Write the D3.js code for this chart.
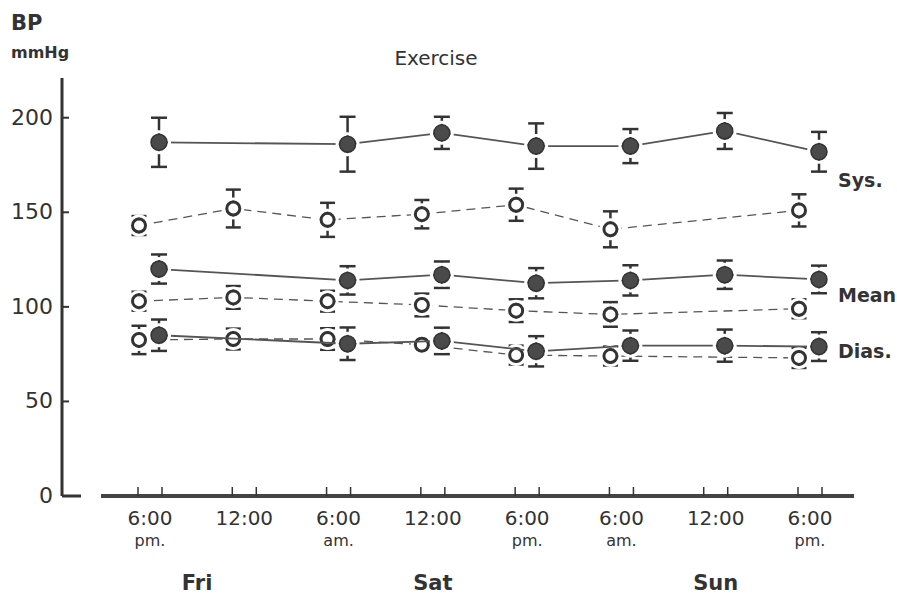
<!DOCTYPE html>
<html>
<head>
<meta charset="utf-8">
<script src="https://cdn.jsdelivr.net/npm/d3@7"></script>
<style>
  body { margin: 0; background: #fff; }
  text { font-family: "DejaVu Sans", sans-serif; fill: #333; }
</style>
</head>
<body>
<div id="chart-area"></div>
<script>
// time slots along the x axis (two lines per label)
var slotTop = ["6:00", "12:00", "6:00", "12:00", "6:00", "6:00", "12:00", "6:00"];
var slotBottom = ["pm.", "", "am.", "", "pm.", "am.", "", "pm."];
var days = [["Fri", 0.5], ["Sat", 3], ["Sun", 6]];
var yTicks = [0, 50, 100, 150, 200];

// open circles (dashed), null = not measured
var openSys     = [143, 152, 146, 149, 154, 141, null, 151];
var openSysErr  = [5, 10, 9, 7.5, 8.5, 9.5, null, 8.5];
var openMean    = [103, 105, 103, 101, 98, 96, null, 99];
var openMeanErr = [5, 6, 5.5, 6, 6, 6.5, null, 5];
var openDias    = [82.5, 83, 83, 80, 74.5, 74, null, 73];
var openDiasErr = [7.5, 5.5, 5.7, 3, 5, 5, null, 5.3];

// filled circles (solid, exercise)
var fillSys     = [187, null, 186, 192, 185, 185, 193, 182];
var fillSysErr  = [13, null, 14.5, 8.5, 12, 9, 9.5, 10.5];
var fillMean    = [120, null, 114, 117, 112.5, 114, 117, 114.5];
var fillMeanErr = [7.7, null, 7.5, 7, 8, 8, 7.5, 7.3];
var fillDias    = [85, null, 80.5, 82, 76.5, 79.5, 79.5, 79];
var fillDiasErr = [8.3, null, 8.6, 7, 8, 8, 8.5, 7.6];

// series names and the value their label sits at
var seriesLabels = [["Sys.", 163.5], ["Mean", 102.5], ["Dias.", 73]];

var width = 897, height = 597;

var svg = d3.select("#chart-area").append("svg")
    .attr("width", width)
    .attr("height", height);

var x = d3.scaleLinear().domain([0, 7]).range([150, 810]);
var y = d3.scaleLinear().domain([0, 221]).range([496, 78]);

var openOff = -11, fillOff = 9;

// y axis
svg.append("line")
    .attr("x1", 62).attr("x2", 62)
    .attr("y1", y(221)).attr("y2", y(0))
    .attr("stroke", "#333").attr("stroke-width", 3);
svg.append("line")
    .attr("x1", 62).attr("x2", 81)
    .attr("y1", y(0)).attr("y2", y(0))
    .attr("stroke", "#333").attr("stroke-width", 3);

svg.selectAll(".ytick")
    .data(yTicks.filter(function(d){ return d > 0; }))
    .enter().append("line")
        .attr("x1", 62).attr("x2", 69)
        .attr("y1", function(d){ return y(d); })
        .attr("y2", function(d){ return y(d); })
        .attr("stroke", "#333").attr("stroke-width", 2);

svg.selectAll(".ylabel")
    .data(yTicks)
    .enter().append("text")
        .attr("x", 53)
        .attr("y", function(d){ return y(d) + 7; })
        .attr("text-anchor", "end")
        .attr("font-size", 22)
        .text(function(d){ return d; });

// x axis
svg.append("line")
    .attr("x1", 101).attr("x2", 854)
    .attr("y1", y(0)).attr("y2", y(0))
    .attr("stroke", "#444").attr("stroke-width", 4);

slotTop.forEach(function(t, i){
    [-12, 12].forEach(function(off){
        svg.append("line")
            .attr("x1", x(i) + off).attr("x2", x(i) + off)
            .attr("y1", y(0)).attr("y2", y(0) - 9)
            .attr("stroke", "#333").attr("stroke-width", 1.5);
    });
    svg.append("text")
        .attr("x", x(i)).attr("y", 525)
        .attr("text-anchor", "middle")
        .attr("font-size", 20)
        .text(t);
    svg.append("text")
        .attr("x", x(i)).attr("y", 546)
        .attr("text-anchor", "middle")
        .attr("font-size", 16)
        .text(slotBottom[i]);
});

days.forEach(function(d){
    svg.append("text")
        .attr("x", x(d[1])).attr("y", 590)
        .attr("text-anchor", "middle")
        .attr("font-size", 21)
        .attr("font-weight", "bold")
        .text(d[0]);
});

// titles
svg.append("text").attr("x", 11).attr("y", 30)
    .attr("font-size", 21).attr("font-weight", "bold").text("BP");
svg.append("text").attr("x", 11).attr("y", 58)
    .attr("font-size", 16).attr("font-weight", "bold").text("mmHg");
svg.append("text").attr("x", 436).attr("y", 65)
    .attr("text-anchor", "middle").attr("font-size", 20).text("Exercise");

// series
function drawSeries(vals, errs, off, filled){
    var pts = [];
    vals.forEach(function(v, i){
        if (v !== null) pts.push({ i: i, v: v, e: errs[i] });
    });

    var line = d3.line()
        .x(function(d){ return x(d.i) + off; })
        .y(function(d){ return y(d.v); });

    svg.append("path")
        .datum(pts)
        .attr("d", line)
        .attr("fill", "none")
        .attr("stroke", "#555")
        .attr("stroke-width", filled ? 1.8 : 1.3)
        .attr("stroke-dasharray", filled ? null : "9,6");

    var capW = filled ? 8 : 7.5;
    var g = svg.append("g").selectAll("g")
        .data(pts)
        .enter().append("g");

    g.append("line")
        .attr("x1", function(d){ return x(d.i) + off; })
        .attr("x2", function(d){ return x(d.i) + off; })
        .attr("y1", function(d){ return y(d.v + d.e); })
        .attr("y2", function(d){ return y(d.v - d.e); })
        .attr("stroke", "#333").attr("stroke-width", 2.5);
    [1, -1].forEach(function(s){
        g.append("line")
            .attr("x1", function(d){ return x(d.i) + off - capW; })
            .attr("x2", function(d){ return x(d.i) + off + capW; })
            .attr("y1", function(d){ return y(d.v + s * d.e); })
            .attr("y2", function(d){ return y(d.v + s * d.e); })
            .attr("stroke", "#333").attr("stroke-width", 2.5);
    });

    // white halo so lines stop short of the markers
    g.append("circle")
        .attr("cx", function(d){ return x(d.i) + off; })
        .attr("cy", function(d){ return y(d.v); })
        .attr("r", filled ? 10.5 : 9.5)
        .attr("fill", "none")
        .attr("stroke", "#fff")
        .attr("stroke-width", 3);

    g.append("circle")
        .attr("cx", function(d){ return x(d.i) + off; })
        .attr("cy", function(d){ return y(d.v); })
        .attr("r", filled ? 8 : 6.5)
        .attr("fill", filled ? "#4a4a4a" : "#fff")
        .attr("stroke", "#333")
        .attr("stroke-width", filled ? 1.5 : 3);
}

drawSeries(openSys, openSysErr, openOff, false);
drawSeries(openMean, openMeanErr, openOff, false);
drawSeries(openDias, openDiasErr, openOff, false);
drawSeries(fillSys, fillSysErr, fillOff, true);
drawSeries(fillMean, fillMeanErr, fillOff, true);
drawSeries(fillDias, fillDiasErr, fillOff, true);

// series labels
seriesLabels.forEach(function(l){
    svg.append("text")
        .attr("x", 838).attr("y", y(l[1]))
        .attr("font-size", 19)
        .attr("font-weight", "bold")
        .text(l[0]);
});
</script>
</body>
</html>
